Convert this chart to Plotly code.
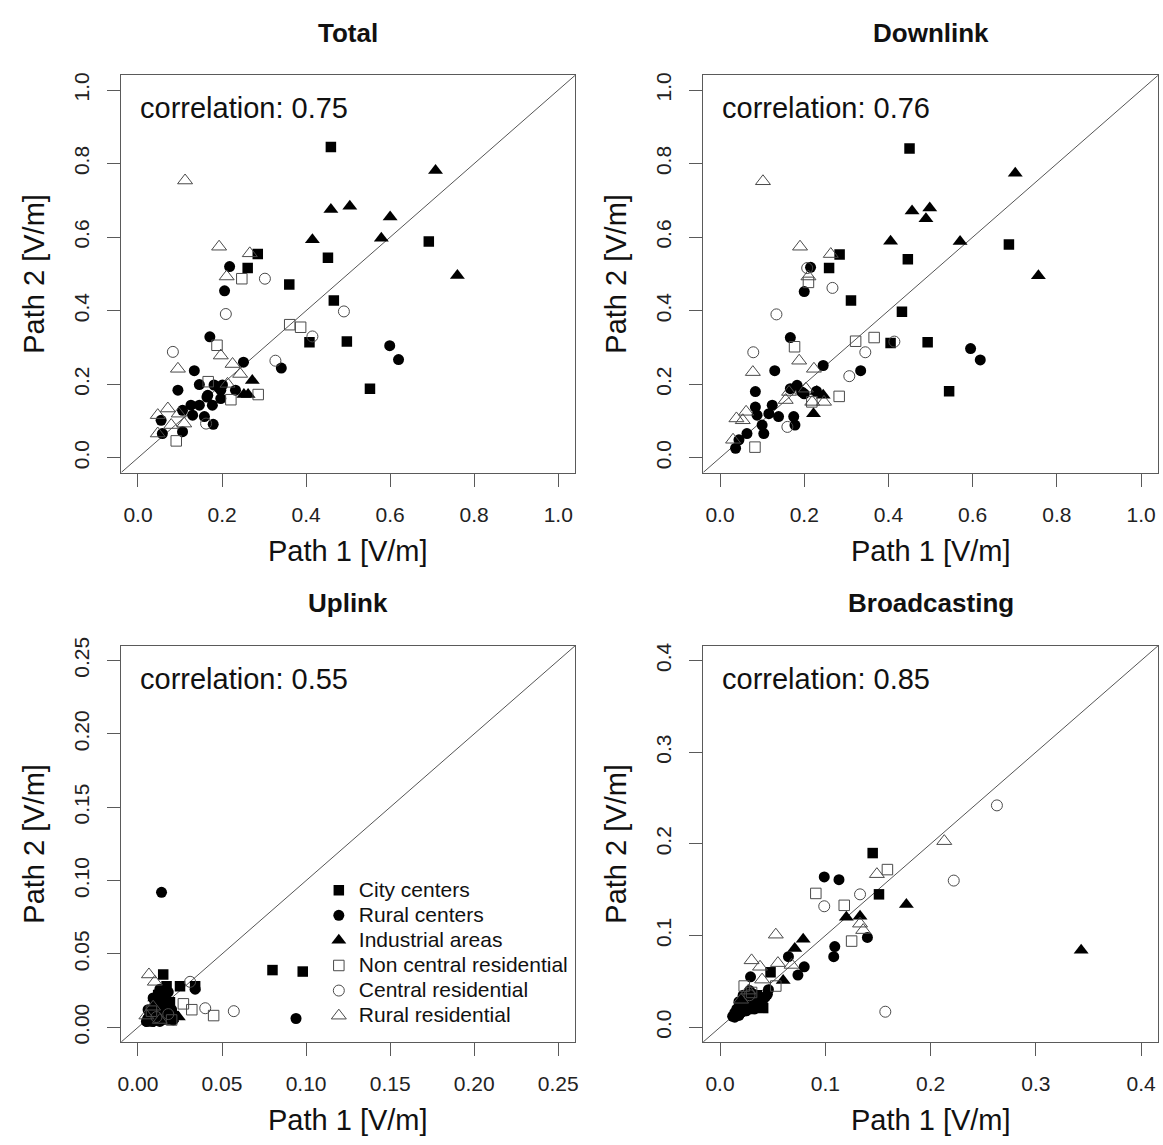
import plotly.graph_objects as go

# ---------------- data ----------------
categories = ["City centers", "Rural centers", "Industrial areas",
              "Non central residential", "Central residential", "Rural residential"]
panel_titles = ["Total", "Downlink", "Uplink", "Broadcasting"]
correlations = ["0.75", "0.76", "0.55", "0.85"]
axis_max = [1.0, 1.0, 0.25, 0.4]
tick_step = [0.2, 0.2, 0.05, 0.1]
tick_fmt = [".1f", ".1f", ".2f", ".1f"]

# Total
city_x_tot = [0.459, 0.692, 0.285, 0.261, 0.452, 0.360, 0.466, 0.408, 0.497, 0.552]
city_y_tot = [0.845, 0.588, 0.554, 0.516, 0.544, 0.471, 0.428, 0.314, 0.316, 0.188]
rurc_x_tot = [0.599, 0.620, 0.218, 0.206, 0.171, 0.251, 0.341, 0.134, 0.095, 0.146, 0.181, 0.201, 0.197, 0.232,
              0.166, 0.197, 0.106, 0.126, 0.146, 0.177, 0.130, 0.158, 0.179, 0.055, 0.058, 0.106, 0.193, 0.164]
rurc_y_tot = [0.305, 0.267, 0.520, 0.454, 0.329, 0.260, 0.244, 0.237, 0.184, 0.199, 0.198, 0.198, 0.184, 0.184,
              0.170, 0.161, 0.129, 0.143, 0.143, 0.143, 0.116, 0.112, 0.091, 0.102, 0.066, 0.071, 0.190, 0.165]
ind_x_tot = [0.708, 0.459, 0.504, 0.600, 0.415, 0.579, 0.760, 0.272, 0.252, 0.262]
ind_y_tot = [0.781, 0.675, 0.684, 0.655, 0.593, 0.597, 0.496, 0.210, 0.172, 0.172]
ncr_x_tot = [0.361, 0.387, 0.247, 0.188, 0.286, 0.221, 0.167, 0.091]
ncr_y_tot = [0.362, 0.355, 0.487, 0.306, 0.172, 0.158, 0.207, 0.046]
cr_x_tot = [0.302, 0.209, 0.490, 0.415, 0.083, 0.327, 0.162]
cr_y_tot = [0.487, 0.391, 0.398, 0.330, 0.288, 0.264, 0.093]
rr_x_tot = [0.112, 0.193, 0.266, 0.211, 0.197, 0.095, 0.225, 0.243, 0.213, 0.071, 0.047, 0.097, 0.110, 0.047, 0.079]
rr_y_tot = [0.754, 0.574, 0.556, 0.493, 0.278, 0.242, 0.255, 0.228, 0.201, 0.134, 0.116, 0.120, 0.093, 0.066, 0.089]

# Downlink
city_x_dl = [0.450, 0.686, 0.284, 0.259, 0.446, 0.311, 0.432, 0.405, 0.493, 0.544]
city_y_dl = [0.841, 0.580, 0.553, 0.516, 0.540, 0.428, 0.397, 0.312, 0.314, 0.181]
rurc_x_dl = [0.595, 0.618, 0.215, 0.200, 0.167, 0.245, 0.334, 0.130, 0.084, 0.183, 0.194, 0.167, 0.084,
             0.088, 0.124, 0.139, 0.100, 0.104, 0.175, 0.178, 0.064, 0.045, 0.037, 0.116, 0.200, 0.229]
rurc_y_dl = [0.297, 0.266, 0.518, 0.452, 0.327, 0.251, 0.237, 0.237, 0.180, 0.197, 0.179, 0.188, 0.138,
             0.116, 0.143, 0.112, 0.089, 0.066, 0.112, 0.089, 0.066, 0.049, 0.026, 0.120, 0.174, 0.181]
ind_x_dl = [0.701, 0.456, 0.498, 0.489, 0.405, 0.570, 0.756, 0.222, 0.230, 0.245]
ind_y_dl = [0.774, 0.671, 0.679, 0.650, 0.589, 0.588, 0.495, 0.120, 0.180, 0.170]
ncr_x_dl = [0.366, 0.322, 0.210, 0.177, 0.283, 0.218, 0.083]
ncr_y_dl = [0.327, 0.317, 0.477, 0.302, 0.167, 0.152, 0.029]
cr_x_dl = [0.207, 0.267, 0.134, 0.414, 0.079, 0.345, 0.307, 0.160]
cr_y_dl = [0.516, 0.462, 0.390, 0.316, 0.287, 0.287, 0.222, 0.084]
rr_x_dl = [0.102, 0.190, 0.263, 0.210, 0.188, 0.078, 0.223, 0.062, 0.039, 0.054, 0.164, 0.156, 0.204, 0.219, 0.247, 0.031]
rr_y_dl = [0.752, 0.574, 0.554, 0.493, 0.264, 0.233, 0.242, 0.125, 0.107, 0.102, 0.179, 0.157, 0.188, 0.152, 0.152, 0.049]

# Uplink
city_x_ul = [0.080, 0.098, 0.015, 0.025, 0.034, 0.017, 0.012, 0.014, 0.010, 0.016, 0.011, 0.007, 0.019]
city_y_ul = [0.039, 0.038, 0.036, 0.028, 0.028, 0.028, 0.022, 0.015, 0.010, 0.020, 0.016, 0.004, 0.017]
rurc_x_ul = [0.014, 0.094, 0.034, 0.021, 0.008, 0.012, 0.016, 0.006, 0.010, 0.019, 0.013, 0.009,
             0.005, 0.007, 0.009, 0.011, 0.013, 0.015, 0.017, 0.012, 0.010, 0.014, 0.016, 0.020,
             0.022, 0.008, 0.006, 0.018, 0.013]
rurc_y_ul = [0.092, 0.006, 0.026, 0.005, 0.012, 0.008, 0.018, 0.006, 0.015, 0.010, 0.004, 0.020,
             0.004, 0.006, 0.004, 0.007, 0.010, 0.006, 0.008, 0.013, 0.018, 0.021, 0.014, 0.012,
             0.008, 0.009, 0.012, 0.024, 0.026]
ind_x_ul = [0.024, 0.015, 0.010, 0.018, 0.007, 0.012, 0.020]
ind_y_ul = [0.007, 0.012, 0.020, 0.004, 0.009, 0.005, 0.006]
ncr_x_ul = [0.045, 0.032, 0.027, 0.008, 0.020]
ncr_y_ul = [0.008, 0.012, 0.016, 0.011, 0.005]
cr_x_ul = [0.057, 0.040, 0.031, 0.011, 0.018]
cr_y_ul = [0.011, 0.013, 0.031, 0.007, 0.009]
rr_x_ul = [0.0065, 0.010, 0.005, 0.009, 0.013]
rr_y_ul = [0.036, 0.031, 0.008, 0.014, 0.005]

# Broadcasting
city_x_bc = [0.145, 0.151, 0.048, 0.041, 0.030, 0.022, 0.035, 0.016, 0.027, 0.038]
city_y_bc = [0.190, 0.145, 0.060, 0.021, 0.030, 0.025, 0.035, 0.014, 0.020, 0.024]
rurc_x_bc = [0.099, 0.113, 0.140, 0.109, 0.108, 0.065, 0.080, 0.074, 0.029, 0.046, 0.015, 0.020, 0.025,
             0.018, 0.030, 0.022, 0.035, 0.012, 0.028, 0.040,
             0.014, 0.018, 0.020, 0.024, 0.028, 0.033, 0.036, 0.040, 0.043, 0.016, 0.020, 0.024,
             0.027, 0.032, 0.014, 0.018, 0.033, 0.045]
rurc_y_bc = [0.164, 0.161, 0.098, 0.088, 0.077, 0.077, 0.066, 0.057, 0.055, 0.041, 0.015, 0.020, 0.018,
             0.028, 0.025, 0.035, 0.030, 0.012, 0.040, 0.032,
             0.011, 0.013, 0.016, 0.018, 0.021, 0.023, 0.027, 0.028, 0.033, 0.020, 0.025, 0.028,
             0.032, 0.036, 0.016, 0.022, 0.020, 0.036]
ind_x_bc = [0.343, 0.177, 0.120, 0.133, 0.079, 0.071, 0.060, 0.025, 0.038]
ind_y_bc = [0.084, 0.134, 0.120, 0.121, 0.096, 0.086, 0.051, 0.022, 0.030]
ncr_x_bc = [0.159, 0.091, 0.118, 0.125, 0.053, 0.023, 0.030]
ncr_y_bc = [0.172, 0.146, 0.133, 0.094, 0.045, 0.045, 0.038]
cr_x_bc = [0.263, 0.222, 0.157, 0.133, 0.099, 0.028]
cr_y_bc = [0.242, 0.160, 0.017, 0.145, 0.132, 0.035]
rr_x_bc = [0.213, 0.149, 0.133, 0.136, 0.053, 0.055, 0.068, 0.030, 0.038, 0.040, 0.020, 0.027]
rr_y_bc = [0.203, 0.167, 0.113, 0.106, 0.101, 0.070, 0.068, 0.073, 0.066, 0.052, 0.030, 0.040]

panels = [
    [(city_x_tot, city_y_tot), (rurc_x_tot, rurc_y_tot), (ind_x_tot, ind_y_tot),
     (ncr_x_tot, ncr_y_tot), (cr_x_tot, cr_y_tot), (rr_x_tot, rr_y_tot)],
    [(city_x_dl, city_y_dl), (rurc_x_dl, rurc_y_dl), (ind_x_dl, ind_y_dl),
     (ncr_x_dl, ncr_y_dl), (cr_x_dl, cr_y_dl), (rr_x_dl, rr_y_dl)],
    [(city_x_ul, city_y_ul), (rurc_x_ul, rurc_y_ul), (ind_x_ul, ind_y_ul),
     (ncr_x_ul, ncr_y_ul), (cr_x_ul, cr_y_ul), (rr_x_ul, rr_y_ul)],
    [(city_x_bc, city_y_bc), (rurc_x_bc, rurc_y_bc), (ind_x_bc, ind_y_bc),
     (ncr_x_bc, ncr_y_bc), (cr_x_bc, cr_y_bc), (rr_x_bc, rr_y_bc)],
]

# ---------------- styling ----------------
W, H = 1163, 1145
FONT = "Liberation Sans, Arial, sans-serif"
symbols = ["square", "circle", "triangle-up", "square-open", "circle-open", "triangle-up-open"]
sizes = [10.5, 11, 13, 10.5, 11, 13]
colors = ["#000000", "#000000", "#000000", "#4a4a4a", "#4a4a4a", "#4a4a4a"]
AX = "#5a5a5a"

# pixel boxes: (left, right, top, bottom)
boxes = [(118, 575, 67, 468), (704, 1162, 67, 468), (118, 575, 643, 1043), (704, 1162, 643, 1043)]

fig = go.Figure()
layout = dict(width=W, height=H, margin=dict(l=0, r=0, t=0, b=0),
              paper_bgcolor="white", plot_bgcolor="white",
              font=dict(family=FONT, color="#111"), annotations=[], shapes=[])

for i, (data, box) in enumerate(zip(panels, boxes)):
    n = i + 1
    xa = "x" if n == 1 else f"x{n}"
    ya = "y" if n == 1 else f"y{n}"
    l, r, t, b = box
    m = axis_max[i]
    pad = 0.04 * m
    for k, (xs, ys) in enumerate(data):
        fig.add_trace(go.Scatter(
            x=xs, y=ys, mode="markers",
            name=f'<span style="font-size:21px">{categories[k]}</span>',
            xaxis=xa, yaxis=ya,
            legendgroup=categories[k], showlegend=(i == 2),
            marker=dict(symbol=symbols[k], size=sizes[k], color=colors[k],
                        line=dict(width=1 if k >= 3 else 0, color=colors[k])),
            hoverinfo="skip"))
    common = dict(showline=True, mirror=True, linecolor=AX, linewidth=1,
                  ticks="outside", ticklen=13, tickcolor=AX, tickwidth=1,
                  showgrid=False, zeroline=False, tickformat=tick_fmt[i],
                  tick0=0, dtick=tick_step[i], range=[-pad, m + pad],
                  tickfont=dict(size=21, family=FONT, color="#222"),
                  ticklabelstandoff=10, fixedrange=True)
    layout[("xaxis" if n == 1 else f"xaxis{n}")] = dict(
        domain=[l / W, r / W], anchor=ya, **common)
    layout[("yaxis" if n == 1 else f"yaxis{n}")] = dict(
        domain=[1 - b / H, 1 - t / H], anchor=xa, tickangle=-90, **common)
    # diagonal y = x
    layout["shapes"].append(dict(type="line", xref=xa, yref=ya, x0=-pad, y0=-pad, x1=m + pad, y1=m + pad,
                                 line=dict(color="#555", width=1), layer="below"))
    cx = (l + r) / 2 / W
    # panel title
    layout["annotations"].append(dict(text=f"<b>{panel_titles[i]}</b>", xref="paper", yref="paper",
                                      x=cx, y=1 - (t - 43) / H, xanchor="center", yanchor="middle",
                                      showarrow=False, font=dict(size=26, family=FONT, color="#111")))
    # x axis title
    layout["annotations"].append(dict(text="Path 1 [V/m]", xref="paper", yref="paper",
                                      x=cx, y=1 - (b + 79) / H, xanchor="center", yanchor="middle",
                                      showarrow=False, font=dict(size=29, family=FONT, color="#111")))
    # y axis title
    layout["annotations"].append(dict(text="Path 2 [V/m]", xref="paper", yref="paper",
                                      x=(l - 88) / W, y=1 - (t + b) / 2 / H, xanchor="center", yanchor="middle",
                                      textangle=-90, showarrow=False,
                                      font=dict(size=29, family=FONT, color="#111")))
    # correlation label
    layout["annotations"].append(dict(text=f"correlation: {correlations[i]}", xref=xa, yref=ya,
                                      x=0, y=0.95 * m, xanchor="left", yanchor="middle",
                                      showarrow=False, font=dict(size=29, family=FONT, color="#111")))

layout["legend"] = dict(x=317 / W, y=1 - 872 / H, xanchor="left", yanchor="top",
                        bgcolor="rgba(0,0,0,0)", borderwidth=0,
                        font=dict(size=17, family=FONT, color="#111"),
                        tracegroupgap=0, itemclick=False, itemdoubleclick=False)
fig.update_layout(**layout)
fig.write_html("out.html")
